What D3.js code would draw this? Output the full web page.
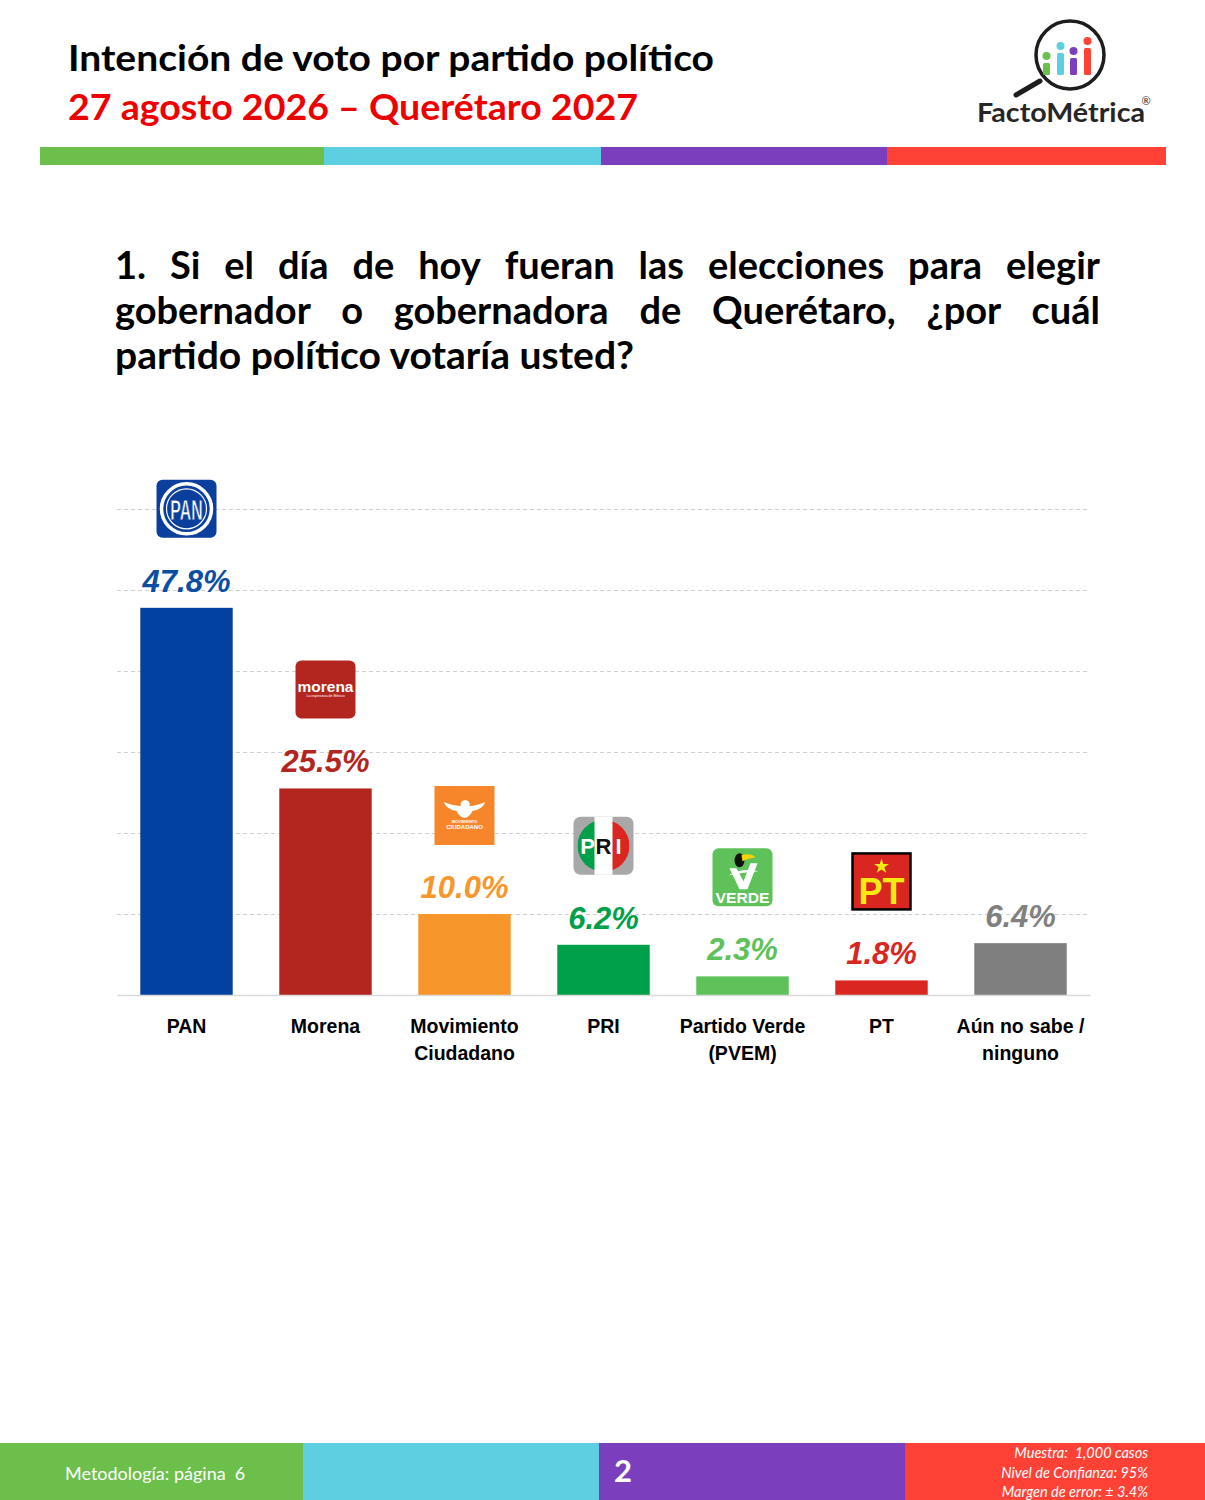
<!DOCTYPE html>
<html>
<head>
<meta charset="utf-8">
<script src="https://cdn.jsdelivr.net/npm/d3@7"></script>
<style>
  body { margin: 0; background: #fff; }
  svg { display: block; }
  text { white-space: pre; }
</style>
</head>
<body>
<svg id="chart"></svg>
<script>
// datos
const categories = ["PAN", "Morena", "Movimiento\nCiudadano", "PRI", "Partido Verde\n(PVEM)", "PT", "Aún no sabe /\nninguno"];
const values = [47.8, 25.5, 10.0, 6.2, 2.3, 1.8, 6.4];
const barColors = ["#0341A0", "#B3261F", "#F7962A", "#00A04B", "#5EC15A", "#D92620", "#7F7F7F"];
const labelColors = ["#0B4EA2", "#B3261F", "#F7962A", "#00A04B", "#5EC15A", "#D92620", "#808080"];
const logos = ["pan", "morena", "mc", "pri", "pvem", "pt", null];
const gridTicks = [10, 20, 30, 40, 50, 60];

const title = "Intención de voto por partido político";
const subtitle = "27 agosto 2026 – Querétaro 2027";
const questionLines = [
    "1. Si el día de hoy fueran las elecciones para elegir",
    "gobernador o gobernadora de Querétaro, ¿por cuál",
    "partido político votaría usted?"
];
const stripeColors = ["#6CBF4B", "#5ECFE0", "#7B3FBE", "#FF4136"];
const footerNotes = ["Muestra:  1,000 casos", "Nivel de Confianza: 95%", "Margen de error: ± 3.4%"];

const width = 1205;
const height = 1500;
const svg = d3.select("#chart").attr("width", width).attr("height", height);

// Encabezado
svg.append("text")
    .attr("x", 68).attr("y", 71)
    .attr("font-family", "Lato, sans-serif").attr("font-weight", 700)
    .attr("font-size", 36).attr("fill", "#000")
    .attr("textLength", 646).attr("lengthAdjust", "spacingAndGlyphs")
    .text(title);

svg.append("text")
    .attr("x", 68).attr("y", 120)
    .attr("font-family", "Lato, sans-serif").attr("font-weight", 700)
    .attr("font-size", 36).attr("fill", "#EE0000")
    .attr("textLength", 570).attr("lengthAdjust", "spacingAndGlyphs")
    .text(subtitle);

// franja de colores
const stripeEdges = [40, 324, 601, 887, 1166];
stripeColors.forEach((c, i) => {
    svg.append("rect")
        .attr("x", stripeEdges[i]).attr("y", 147)
        .attr("width", stripeEdges[i + 1] - stripeEdges[i]).attr("height", 18)
        .attr("fill", c);
});

// Logo FactoMétrica
const fm = svg.append("g").attr("transform", "translate(1070,55)");
fm.append("line").attr("x1", -30).attr("y1", 26).attr("x2", -54).attr("y2", 40)
    .attr("stroke", "#1d1d1d").attr("stroke-width", 5).attr("stroke-linecap", "round");
fm.append("circle").attr("r", 34).attr("fill", "#fff").attr("stroke", "#1d1d1d").attr("stroke-width", 3.5);
const fmBars = [
    {x: -27, top: 8, dot: 1, c: stripeColors[0]},
    {x: -13, top: -2, dot: -9, c: stripeColors[1]},
    {x: 0, top: 3, dot: -4, c: stripeColors[2]},
    {x: 14, top: -7, dot: -14, c: stripeColors[3]}
];
fmBars.forEach(b => {
    fm.append("rect").attr("x", b.x).attr("y", b.top).attr("width", 7).attr("height", 20 - b.top)
        .attr("rx", 1.5).attr("fill", b.c);
    fm.append("circle").attr("cx", b.x + 3.5).attr("cy", b.dot).attr("r", 4).attr("fill", b.c);
});
svg.append("text")
    .attr("x", 977).attr("y", 122)
    .attr("font-family", "Lato, sans-serif").attr("font-weight", 700)
    .attr("font-size", 26).attr("fill", "#262626")
    .attr("textLength", 168).attr("lengthAdjust", "spacingAndGlyphs")
    .text("FactoMétrica");
svg.append("text")
    .attr("x", 1146).attr("y", 105).attr("text-anchor", "middle")
    .attr("font-family", "Lato, sans-serif").attr("font-size", 11).attr("fill", "#262626")
    .text("®");

// Pregunta (justificada)
const qLeft = 115, qRight = 1100;
const qWidth = qRight - qLeft;
const qg = svg.append("g").attr("transform", `translate(${qLeft},0)`);
questionLines.forEach((line, li) => {
    const yLine = 279 + li * 45;
    const words = line.split(" ");
    const t = qg.append("text")
        .attr("y", yLine)
        .attr("font-family", "Lato, sans-serif").attr("font-weight", 700)
        .attr("font-size", 38).attr("fill", "#000");
    if (li === questionLines.length - 1) {
        t.attr("x", 0).attr("textLength", 519).attr("lengthAdjust", "spacingAndGlyphs").text(line);
        return;
    }
    const spans = words.map(w => t.append("tspan").text(w));
    const lens = spans.map(s => s.node().getComputedTextLength());
    const gap = (qWidth - d3.sum(lens)) / (words.length - 1);
    let cx = 0;
    spans.forEach((s, i) => {
        s.attr("x", cx);
        cx += lens[i] + gap;
    });
});

// Grafica
const chartLeft = 117, chartRight = 1090;
const x = d3.scaleBand()
    .domain(categories)
    .range([chartLeft, chartRight])
    .paddingInner(0.335)
    .paddingOuter(0.1675);

const y = d3.scaleLinear()
    .domain([0, 60])
    .range([995, 509]);

// lineas de cuadricula
const grid = svg.append("g")
    .attr("transform", `translate(${chartLeft},0)`)
    .call(d3.axisLeft(y).tickValues(gridTicks).tickSize(-(chartRight - chartLeft)).tickFormat(""));
grid.select(".domain").remove();
grid.selectAll(".tick line")
    .attr("stroke", "#D0D0D0").attr("stroke-width", 1).attr("stroke-dasharray", "4,3");

// barras
svg.selectAll(".bar")
    .data(values)
    .enter()
    .append("rect")
    .attr("class", "bar")
    .attr("x", (d, i) => x(categories[i]))
    .attr("y", d => y(d))
    .attr("width", x.bandwidth())
    .attr("height", d => y(0) - y(d))
    .attr("fill", (d, i) => barColors[i]);

// eje X
const xAxis = svg.append("g")
    .attr("transform", `translate(0,${y(0)})`)
    .call(d3.axisBottom(x).tickSize(0).tickSizeOuter(0));
xAxis.select(".domain").attr("stroke", "#D9D9D9").attr("stroke-width", 1.5);
xAxis.selectAll(".tick text").each(function(d) {
    const el = d3.select(this);
    el.text(null).attr("y", 0).attr("dy", null)
        .attr("font-family", "'Liberation Sans', Arial, sans-serif")
        .attr("font-weight", 700).attr("font-size", 19.5).attr("fill", "#000");
    d.split("\n").forEach((ln, i) => {
        el.append("tspan").attr("x", 0).attr("y", 38 + i * 27).text(ln);
    });
});

// etiquetas de valores
svg.selectAll(".val")
    .data(values)
    .enter()
    .append("text")
    .attr("class", "val")
    .attr("x", (d, i) => x(categories[i]) + x.bandwidth() / 2)
    .attr("y", d => y(d) - 16)
    .attr("text-anchor", "middle")
    .attr("font-family", "'Liberation Sans', Arial, sans-serif")
    .attr("font-weight", 700).attr("font-style", "italic")
    .attr("font-size", 31)
    .attr("fill", (d, i) => labelColors[i])
    .text(d => d.toFixed(1) + "%");

// logotipos de partidos
const F = "'Liberation Sans', Arial, sans-serif";
function drawLogo(g, type) {
    if (type === "pan") {
        g.append("rect").attr("x", -30).attr("y", -29).attr("width", 60).attr("height", 58).attr("rx", 6).attr("fill", "#0A3F9E");
        g.append("circle").attr("r", 25).attr("fill", "none").attr("stroke", "#fff").attr("stroke-width", 3.5);
        g.append("circle").attr("r", 20).attr("fill", "none").attr("stroke", "#fff").attr("stroke-width", 1.2);
        g.append("text").attr("transform", "scale(0.72,1.35)").attr("y", 8).attr("text-anchor", "middle")
            .attr("font-family", F).attr("font-weight", 700).attr("font-size", 22)
            .attr("fill", "#fff").attr("stroke", "#0A3F9E").attr("stroke-width", 0.6).text("PAN");
    } else if (type === "morena") {
        g.append("rect").attr("x", -30).attr("y", -29).attr("width", 60).attr("height", 58).attr("rx", 6).attr("fill", "#B3261F");
        g.append("text").attr("y", 3).attr("text-anchor", "middle").attr("font-family", F).attr("font-weight", 700)
            .attr("font-size", 14.5).attr("fill", "#fff").attr("textLength", 56).attr("lengthAdjust", "spacingAndGlyphs").text("morena");
        g.append("text").attr("y", 8).attr("text-anchor", "middle").attr("font-family", F)
            .attr("font-size", 3.5).attr("fill", "#fff").text("La esperanza de México");
    } else if (type === "mc") {
        g.append("rect").attr("x", -30).attr("y", -29).attr("width", 60).attr("height", 59).attr("fill", "#F7862A");
        g.append("path")
            .attr("d", "M-21,-13 Q-10,-9 -4,-9 Q-4,-15 1,-15 Q6,-14 5,-9 Q11,-9 21,-13 Q17,-5 8,-4 Q5,2 0,3 Q-5,2 -8,-4 Q-17,-5 -21,-13Z")
            .attr("fill", "#fff");
        g.append("text").attr("y", 8).attr("text-anchor", "middle").attr("font-family", F).attr("font-weight", 700)
            .attr("font-size", 4).attr("fill", "#fff").text("MOVIMIENTO");
        g.append("text").attr("y", 14).attr("text-anchor", "middle").attr("font-family", F).attr("font-weight", 700)
            .attr("font-size", 6).attr("fill", "#fff").text("CIUDADANO");
    } else if (type === "pri") {
        const id = "priclip";
        g.append("clipPath").attr("id", id).append("circle").attr("r", 26);
        g.append("rect").attr("x", -30).attr("y", -29).attr("width", 60).attr("height", 58).attr("rx", 7).attr("fill", "#A8A8A8");
        const c = g.append("g").attr("clip-path", `url(#${id})`);
        c.append("rect").attr("x", -26).attr("y", -26).attr("width", 18).attr("height", 52).attr("fill", "#00A04B");
        c.append("rect").attr("x", 8).attr("y", -26).attr("width", 18).attr("height", 52).attr("fill", "#D92620");
        g.append("rect").attr("x", -9).attr("y", -29).attr("width", 18).attr("height", 58).attr("fill", "#fff");
        [["P", -16, "#fff"], ["R", 0, "#111"], ["I", 15, "#fff"]].forEach(([l, lx, col]) => {
            g.append("text").attr("x", lx).attr("y", 8).attr("text-anchor", "middle").attr("font-family", F)
                .attr("font-weight", 700).attr("font-size", 22).attr("fill", col).text(l);
        });
    } else if (type === "pvem") {
        g.append("rect").attr("x", -30).attr("y", -29).attr("width", 60).attr("height", 58).attr("rx", 6).attr("fill", "#5EC15A");
        g.append("path").attr("d", "M-13,-9 L-3,12 L5,12 L15,-14 L8,-14 L1,4 L-6,-9Z").attr("fill", "#fff");
        g.append("path").attr("d", "M-14,-2 Q0,-10 16,-6 Q2,-5 -14,-2Z").attr("fill", "#fff");
        g.append("ellipse").attr("cx", -3).attr("cy", -17).attr("rx", 5).attr("ry", 7).attr("fill", "#111");
        g.append("path").attr("d", "M-1,-22 Q8,-25 13,-20 Q6,-19 0,-16Z").attr("fill", "#F5D400");
        g.append("text").attr("y", 26).attr("text-anchor", "middle").attr("font-family", F).attr("font-weight", 700)
            .attr("font-size", 15).attr("fill", "#fff").attr("textLength", 54).attr("lengthAdjust", "spacingAndGlyphs").text("VERDE");
    } else if (type === "pt") {
        g.append("rect").attr("x", -29).attr("y", -28).attr("width", 58).attr("height", 56).attr("fill", "#D92620")
            .attr("stroke", "#000").attr("stroke-width", 2.5);
        const star = d3.symbol().type(d3.symbolStar).size(70);
        g.append("path").attr("d", star()).attr("transform", "translate(0,-15)").attr("fill", "#F5EA14");
        g.append("text").attr("y", 23).attr("text-anchor", "middle").attr("font-family", F).attr("font-weight", 700)
            .attr("font-size", 36).attr("fill", "#F5EA14").text("PT");
    }
}
values.forEach((v, i) => {
    if (!logos[i]) return;
    const cx = x(categories[i]) + x.bandwidth() / 2;
    const g = svg.append("g").attr("transform", `translate(${cx},${y(v) - 70 - 29})`);
    drawLogo(g, logos[i]);
});

// Pie de pagina
const footEdges = [0, 303, 599, 905, 1205];
stripeColors.forEach((c, i) => {
    svg.append("rect")
        .attr("x", footEdges[i]).attr("y", 1443)
        .attr("width", footEdges[i + 1] - footEdges[i]).attr("height", 57)
        .attr("fill", c);
});
svg.append("text")
    .attr("x", 65).attr("y", 1480)
    .attr("font-family", "Lato, sans-serif").attr("font-size", 18).attr("fill", "#fff")
    .text("Metodología: página  6");
svg.append("text")
    .attr("x", 623).attr("y", 1482).attr("text-anchor", "middle")
    .attr("font-family", "Lato, sans-serif").attr("font-weight", 700).attr("font-size", 31).attr("fill", "#fff")
    .text("2");
footerNotes.forEach((t, i) => {
    svg.append("text")
        .attr("x", 1148).attr("y", 1458 + i * 19.5).attr("text-anchor", "end")
        .attr("font-family", "Lato, sans-serif").attr("font-style", "italic").attr("font-size", 14.5).attr("fill", "#fff")
        .text(t);
});
</script>
</body>
</html>
